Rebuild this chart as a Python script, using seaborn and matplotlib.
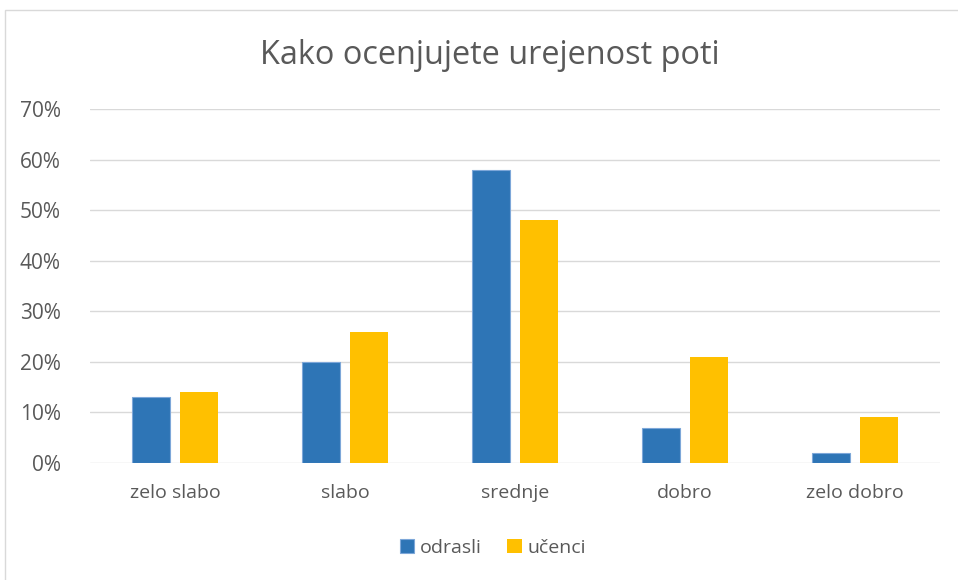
import matplotlib
matplotlib.use("Agg")
import matplotlib.pyplot as plt
import matplotlib.patches as mpatches
from matplotlib.ticker import FuncFormatter, MultipleLocator
import seaborn as sns
import pandas as pd

categories = ["zelo slabo", "slabo", "srednje", "dobro", "zelo dobro"]
series_names = ["odrasli", "učenci"]
odrasli = [0.13, 0.20, 0.58, 0.07, 0.02]
ucenci = [0.14, 0.26, 0.48, 0.21, 0.09]
title = "Kako ocenjujete urejenost poti"

df = pd.DataFrame({
    "kategorija": categories * 2,
    "skupina": [series_names[0]] * len(categories) + [series_names[1]] * len(categories),
    "vrednost": odrasli + ucenci,
})

sns.set_theme(style="white")
plt.rcParams["font.family"] = ["Open Sans", "DejaVu Sans"]
text_color = "#595959"

fig = plt.figure(figsize=(9.58, 5.8), dpi=100)
ax = fig.add_axes([90 / 958, 1 - 463 / 580, 850 / 958, (463 - 109) / 580])

palette = {"odrasli": "#2E75B6", "učenci": "#FFC000"}
sns.barplot(data=df, x="kategorija", y="vrednost", hue="skupina", order=categories,
            hue_order=series_names, palette=palette, width=0.565, gap=0.21,
            saturation=1, ax=ax, legend=True, zorder=3)

for bar in ax.patches:
    fc = bar.get_facecolor()
    if abs(fc[0] - 0x2E / 255) < 0.02:
        bar.set_edgecolor("#7DA7D9")
        bar.set_linewidth(0.8)
    else:
        bar.set_linewidth(0)

ax.set_ylim(0, 0.7)
ax.yaxis.set_major_locator(MultipleLocator(0.1))
ax.yaxis.set_major_formatter(FuncFormatter(lambda v, p: f"{v*100:.0f}%"))
ax.grid(axis="y", color="#D9D9D9", linewidth=1, zorder=0)
ax.set_axisbelow(True)
for s in ax.spines.values():
    s.set_visible(False)
ax.set_xlabel("")
ax.set_ylabel("")
ax.tick_params(axis="x", length=0, labelsize=14, colors=text_color, pad=15)
ax.tick_params(axis="y", length=0, labelsize=15, colors=text_color, pad=21)
for lbl in ax.get_yticklabels() + ax.get_xticklabels():
    lbl.set_color(text_color)

leg = ax.legend(loc="center", bbox_to_anchor=(493 / 958, 1 - 548 / 580),
                bbox_transform=fig.transFigure, ncol=2, frameon=False,
                fontsize=14, handlelength=0.75, handleheight=0.75,
                handletextpad=0.3, columnspacing=1.3)
for t in leg.get_texts():
    t.set_color(text_color)

fig.text(490 / 958, 1 - 55 / 580, title, ha="center", va="center",
         fontsize=23.4, color=text_color)

border = mpatches.Rectangle((5 / 958, -0.02), 1.0, 1 - 10 / 580 + 0.02,
                            transform=fig.transFigure, fill=False,
                            edgecolor="#D9D9D9", linewidth=1, clip_on=False)
fig.patches.append(border)

fig.savefig("out.png", dpi=100)
